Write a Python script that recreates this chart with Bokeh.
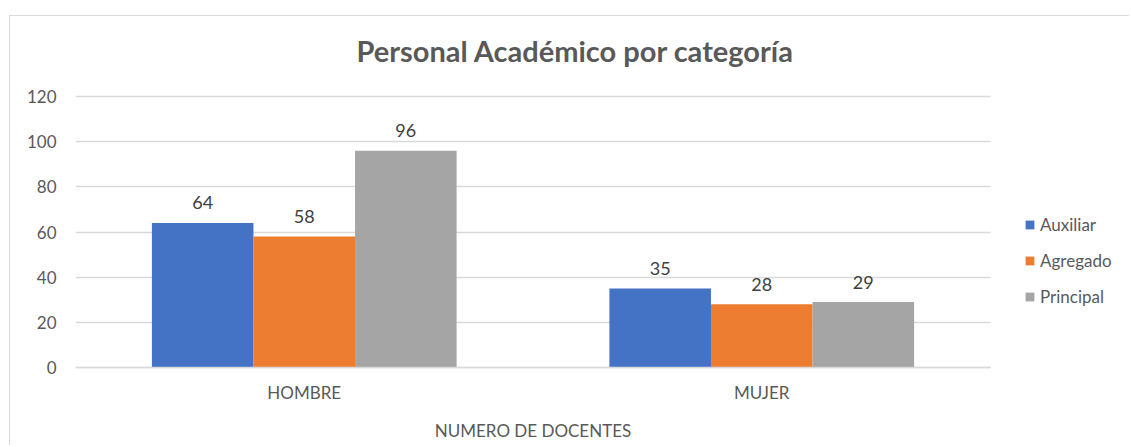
from bokeh.plotting import figure
from bokeh.models import Range1d, Legend, LegendItem, Label, ColumnDataSource, FixedTicker
from bokeh.core.properties import value
from bokeh.embed import file_html
from bokeh.resources import INLINE

categories = ["HOMBRE", "MUJER"]
series = ["Auxiliar", "Agregado", "Principal"]
auxiliar = [64, 35]
agregado = [58, 28]
principal = [96, 29]
colors = ["#4472C4", "#ED7D31", "#A5A5A5"]
title_text = "Personal Académico por categoría"
x_title = "NUMERO DE DOCENTES"
y_ticks = [0, 20, 40, 60, 80, 100, 120]

FONT = "Lato"
TXT = "#595959"

# layout (pixels)
W, H = 1120, 430
LEFT = 65
ZERO_UP = 79            # distance from the zero line to the bottom of the canvas
FRAME_W = W - LEFT
CAT_PX = 457.5          # width of one category slot
Y_PX = 271.0            # height of the 0..120 span
PX_PER_UNIT = Y_PX / 120

n = len(categories)
x_end = FRAME_W / CAT_PX
y_start = -ZERO_UP / PX_PER_UNIT
y_end = (H - ZERO_UP) / PX_PER_UNIT

p = figure(x_range=Range1d(0, x_end), y_range=Range1d(y_start, y_end),
           width=W, height=H, output_backend="svg", toolbar_location=None,
           min_border_left=LEFT, min_border_right=0, min_border_top=0, min_border_bottom=0)
p.styles = {"border-left": "1px solid #d9d9d9", "border-top": "1px solid #d9d9d9"}
p.margin = (15, 0, 0, 9)
p.outline_line_color = None
p.background_fill_color = "white"
p.border_fill_color = "white"

centers = [i + 0.5 for i in range(n)]
bw = 0.222
offsets = [-bw, 0, bw]
data = dict(zip(series, [auxiliar, agregado, principal]))
renderers = []
for s, c, off in zip(series, colors, offsets):
    src = ColumnDataSource(dict(x=[cx + off for cx in centers], top=data[s],
                                lab=[str(v) for v in data[s]]))
    r = p.vbar(x="x", top="top", bottom=0, width=bw, source=src, fill_color=c, line_color=None)
    renderers.append(r)
    p.text(x="x", y="top", text="lab", source=src,
           text_align="center", text_baseline="alphabetic", y_offset=-20,
           text_font=value(FONT), text_font_size="18px", text_color="#404040")

# y axis
p.yaxis.ticker = FixedTicker(ticks=y_ticks)
p.yaxis.bounds = (0, 120)
p.yaxis.axis_line_color = None
p.yaxis.major_tick_line_color = None
p.yaxis.minor_tick_line_color = None
p.yaxis.major_tick_out = 0
p.yaxis.major_tick_in = 0
p.yaxis.major_label_standoff = 19
p.yaxis.major_label_text_font = FONT
p.yaxis.major_label_text_font_size = "17px"
p.yaxis.major_label_text_color = TXT

# x axis, drawn at the zero line
p.xaxis.fixed_location = 0
p.xaxis.ticker = FixedTicker(ticks=centers)
p.xaxis.major_label_overrides = {cx: cat for cx, cat in zip(centers, categories)}
p.xaxis.bounds = (0, n)
p.xaxis.axis_line_color = "#d9d9d9"
p.xaxis.axis_line_width = 1.5
p.xaxis.major_tick_line_color = None
p.xaxis.minor_tick_line_color = None
p.xaxis.major_tick_out = 0
p.xaxis.major_tick_in = 0
p.xaxis.major_label_standoff = 14
p.xaxis.major_label_text_font = FONT
p.xaxis.major_label_text_font_size = "17px"
p.xaxis.major_label_text_color = TXT

p.xgrid.grid_line_color = None
p.ygrid.grid_line_color = "#d9d9d9"
p.ygrid.grid_line_width = 1.5
p.ygrid.cross_bounds = (0, n)

# axis title, centred under the category area
p.add_layout(Label(x=n * CAT_PX / 2, y=16, x_units="screen", y_units="screen", text=x_title,
                   text_align="center", text_baseline="middle", text_font=FONT,
                   text_font_size="17px", text_color=TXT))

# chart title
p.add_layout(Label(x=500, y=ZERO_UP + 317, x_units="screen", y_units="screen", text=title_text,
                   text_align="center", text_baseline="alphabetic", text_font=FONT,
                   text_font_size="29px", text_font_style="bold", text_color=TXT))

legend = Legend(items=[LegendItem(label=s, renderers=[r]) for s, r in zip(series, renderers)],
                location=(949, ZERO_UP + 60), orientation="vertical",
                glyph_width=11, glyph_height=11, label_standoff=5, spacing=15,
                label_height=20, padding=0, margin=0,
                label_text_font=FONT, label_text_font_size="17px", label_text_color=TXT,
                border_line_color=None, background_fill_alpha=0)
p.add_layout(legend, "center")

open("out.html", "w").write(file_html(p, INLINE))
